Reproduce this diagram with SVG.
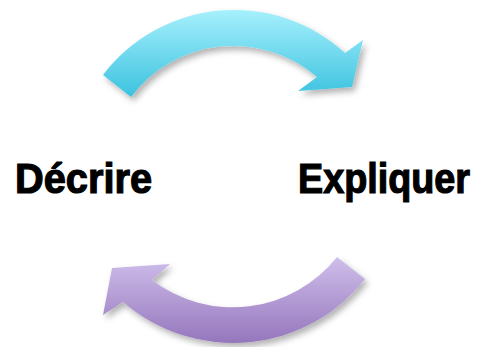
<svg xmlns="http://www.w3.org/2000/svg" width="478" height="347" viewBox="0 0 478 347">
  <defs>
    <linearGradient id="gTop" x1="0" y1="0" x2="0" y2="1">
      <stop offset="0" stop-color="#a6f0fd"/>
      <stop offset="1" stop-color="#3cc2df"/>
    </linearGradient>
    <linearGradient id="gBot" x1="0" y1="0" x2="0" y2="1">
      <stop offset="0" stop-color="#cfbfeb"/>
      <stop offset="1" stop-color="#9576bc"/>
    </linearGradient>
    <filter id="shadow" x="-10%" y="-20%" width="125%" height="145%">
      <feDropShadow dx="3" dy="4" stdDeviation="3" flood-color="#000" flood-opacity="0.3"/>
    </filter>
  </defs>
  <style>
    .arrow { filter: url(#shadow); }
    .label { font-family: "Liberation Sans", Arial, sans-serif; font-weight: bold; font-size: 38px; fill: #000; stroke: #000; stroke-width: 1.1; }
  </style>
  <g id="connectors">
    <path id="arrow-top" class="arrow" fill="url(#gTop)" d="M 103,75 A 164.5 164.5 0 0 1 345,53 L 363,40 L 352,87 L 298,91 L 317,77 A 128 128 0 0 0 131,97 Z"/>
    <path id="arrow-bottom" class="arrow" fill="url(#gBot)" d="M 365,279 A 168 168 0 0 1 123,302 L 103,315 L 112,268 L 170,264 L 152,280 A 133 133 0 0 0 337,257 Z"/>
  </g>
  <g id="node-decrire">
    <text class="label" transform="translate(15,193) scale(1,1.13)" x="0" y="0" textLength="137" lengthAdjust="spacingAndGlyphs">Décrire</text>
  </g>
  <g id="node-expliquer">
    <text class="label" transform="translate(298,193) scale(1,1.13)" x="0" y="0" textLength="172" lengthAdjust="spacingAndGlyphs">Expliquer</text>
  </g>
</svg>
